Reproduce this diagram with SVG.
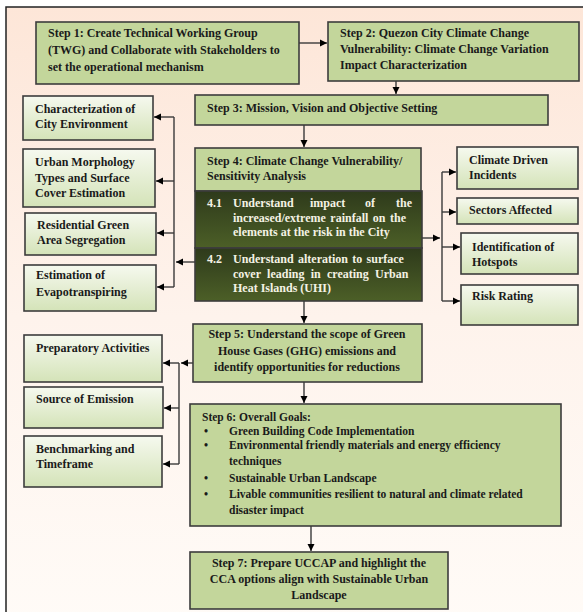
<svg xmlns="http://www.w3.org/2000/svg" width="583" height="612" viewBox="0 0 583 612">
<defs>
<linearGradient id="bg" x1="0" y1="0" x2="0" y2="1">
<stop offset="0" stop-color="#fde6d8"/>
<stop offset="0.5" stop-color="#fef3ec"/>
<stop offset="1" stop-color="#fffbf7"/>
</linearGradient>
<linearGradient id="side" x1="0" y1="0" x2="0" y2="1">
<stop offset="0" stop-color="#f6f9ef"/>
<stop offset="1" stop-color="#d4e3b8"/>
</linearGradient>
<linearGradient id="dark" x1="0" y1="0" x2="0" y2="1">
<stop offset="0" stop-color="#2e3a1b"/>
<stop offset="1" stop-color="#4c5f27"/>
</linearGradient>
<marker id="ah" markerWidth="8" markerHeight="8" refX="7" refY="4" orient="auto" markerUnits="userSpaceOnUse">
<path d="M0,0.5 L7,4 L0,7.5 Z" fill="#000"/>
</marker>
<style>
.step{fill:#c3d69b;stroke:#3c3c3c;stroke-width:1.6}
.sb{fill:url(#side);stroke:#3c3c3c;stroke-width:1.6}
.dk{fill:url(#dark);stroke:#3c3c3c;stroke-width:1.6}
text{font-family:"Liberation Serif","Times New Roman",serif;font-weight:bold;font-size:12px;fill:#1a1a1a}
.w{fill:#f4f2e4}
.c{text-anchor:middle}
.e{text-anchor:end}
.s6{font-size:11.5px}
.ln{fill:none;stroke:#3a3a3a;stroke-width:1.4}
.ar{fill:none;stroke:#3a3a3a;stroke-width:1.4;marker-end:url(#ah)}
</style>
</defs>
<rect x="0" y="0" width="583" height="612" fill="#ffffff"/>
<rect x="6" y="7" width="590" height="620" fill="url(#bg)" stroke="#222" stroke-width="1.5"/>

<g id="step1"><rect class="step" x="36" y="22" width="263" height="62"/>
<text x="48" y="37">Step 1: Create Technical Working Group</text>
<text x="48" y="54">(TWG) and Collaborate with Stakeholders to</text>
<text x="48" y="71">set the operational mechanism</text></g>

<g id="step2"><rect class="step" x="328" y="22" width="251" height="59"/>
<text x="340" y="37">Step 2: Quezon City Climate Change</text>
<text x="340" y="53">Vulnerability: Climate Change Variation</text>
<text x="340" y="69">Impact Characterization</text></g>

<g id="step3"><rect class="step" x="195" y="95" width="353" height="30"/>
<text x="207" y="112">Step 3: Mission, Vision and Objective Setting</text></g>

<g id="step4"><rect class="step" x="195" y="148" width="226" height="43" fill="#c8daa3"/>
<text x="207" y="165">Step 4: Climate Change Vulnerability/</text>
<text x="207" y="180">Sensitivity Analysis</text></g>

<g id="step4-1"><rect class="dk" x="195" y="191" width="227" height="57"/>
<text class="w" x="207" y="207">4.1</text>
<text class="w" y="207"><tspan x="233">Understand</tspan><tspan x="310">impact</tspan><tspan x="365">of</tspan></text>
<text class="w e" x="412" y="207">the</text>
<text class="w" x="233" y="222" word-spacing="1.5">increased/extreme rainfall on the</text>
<text class="w" x="233" y="236">elements at the risk in the City</text></g>

<g id="step4-2"><rect class="dk" x="195" y="248" width="227" height="53"/>
<text class="w" x="207" y="263">4.2</text>
<text class="w" x="233" y="263" word-spacing="1.3">Understand alteration to surface</text>
<text class="w" x="233" y="278" word-spacing="3.3">cover leading in creating Urban</text>
<text class="w" x="233" y="292">Heat Islands (UHI)</text></g>

<g id="char"><rect class="sb" x="23" y="96" width="130" height="44"/>
<text x="35" y="113">Characterization of</text>
<text x="35" y="128">City Environment</text></g>

<g id="urban"><rect class="sb" x="23" y="149" width="132" height="58"/>
<text x="35" y="166">Urban Morphology</text>
<text x="35" y="182">Types and Surface</text>
<text x="35" y="197">Cover Estimation</text></g>

<g id="resid"><rect class="sb" x="25" y="213" width="131" height="42"/>
<text x="37" y="229">Residential Green</text>
<text x="37" y="244">Area Segregation</text></g>

<g id="evapo"><rect class="sb" x="24" y="265" width="132" height="46"/>
<text x="36" y="279">Estimation of</text>
<text x="36" y="296">Evapotranspiring</text></g>

<g id="climate"><rect class="sb" x="457" y="147" width="121" height="42"/>
<text x="469" y="164">Climate Driven</text>
<text x="469" y="179">Incidents</text></g>

<g id="sectors"><rect class="sb" x="457" y="198" width="121" height="26"/>
<text x="469" y="214">Sectors Affected</text></g>

<g id="hotspots"><rect class="sb" x="461" y="233" width="117" height="41"/>
<text x="472" y="251">Identification of</text>
<text x="472" y="266">Hotspots</text></g>

<g id="risk"><rect class="sb" x="461" y="285" width="117" height="40"/>
<text x="472" y="300">Risk Rating</text></g>

<g id="step5"><rect class="step" x="193" y="324" width="229" height="58"/>
<text class="c" x="307" y="338">Step 5: Understand the scope of Green</text>
<text class="c" x="307" y="355">House Gases (GHG) emissions and</text>
<text class="c" x="307" y="371">identify opportunities for reductions</text></g>

<g id="prep"><rect class="sb" x="24" y="335" width="138" height="47"/>
<text x="36" y="352">Preparatory Activities</text></g>

<g id="source"><rect class="sb" x="24" y="387" width="139" height="41"/>
<text x="36" y="403">Source of Emission</text></g>

<g id="bench"><rect class="sb" x="24" y="436" width="138" height="51"/>
<text x="36" y="453">Benchmarking and</text>
<text x="36" y="468">Timeframe</text></g>

<g id="step6"><rect class="step" x="190" y="404" width="371" height="122"/>
<text class="s6" x="202" y="421">Step 6: Overall Goals:</text>
<text class="s6" x="204" y="435">•</text><text class="s6" x="229" y="435">Green Building Code Implementation</text>
<text class="s6" x="204" y="449">•</text><text class="s6" x="229" y="449">Environmental friendly materials and energy efficiency</text>
<text class="s6" x="229" y="465">techniques</text>
<text class="s6" x="204" y="482">•</text><text class="s6" x="229" y="482">Sustainable  Urban  Landscape</text>
<text class="s6" x="204" y="498">•</text><text class="s6" x="229" y="498">Livable communities resilient to natural and climate related</text>
<text class="s6" x="229" y="514">disaster impact</text></g>

<g id="step7"><rect class="step" x="190" y="552" width="258" height="57"/>
<text class="c" x="319" y="567">Step 7: Prepare UCCAP and highlight the</text>
<text class="c" x="319" y="583">CCA options align with Sustainable Urban</text>
<text class="c" x="319" y="599">Landscape</text></g>

<g id="connectors">
<line class="ar" x1="299" y1="43" x2="327" y2="43"/>
<line class="ar" x1="396" y1="81" x2="396" y2="94"/>
<line class="ar" x1="304" y1="125" x2="304" y2="147"/>
<line class="ar" x1="304" y1="301" x2="304" y2="323"/>
<line class="ar" x1="304" y1="382" x2="304" y2="403"/>
<line class="ar" x1="311" y1="526" x2="311" y2="551"/>
<line class="ar" x1="195" y1="262" x2="176" y2="262"/>
<line class="ln" x1="174" y1="117" x2="174" y2="287"/>
<line class="ar" x1="174" y1="117" x2="154" y2="117"/>
<line class="ar" x1="174" y1="181" x2="156" y2="181"/>
<line class="ar" x1="174" y1="233" x2="157" y2="233"/>
<line class="ar" x1="174" y1="287" x2="157" y2="287"/>
<line class="ar" x1="422" y1="238" x2="440" y2="238"/>
<line class="ln" x1="442" y1="172" x2="442" y2="301"/>
<line class="ar" x1="442" y1="172" x2="456" y2="172"/>
<line class="ar" x1="442" y1="212" x2="456" y2="212"/>
<line class="ar" x1="442" y1="247" x2="460" y2="247"/>
<line class="ar" x1="442" y1="301" x2="460" y2="301"/>
<line class="ar" x1="193" y1="363" x2="181" y2="363"/>
<line class="ln" x1="179" y1="363" x2="179" y2="464"/>
<line class="ar" x1="179" y1="363" x2="163" y2="363"/>
<line class="ar" x1="179" y1="408" x2="164" y2="408"/>
<line class="ar" x1="179" y1="464" x2="163" y2="464"/>
</g>
</svg>
